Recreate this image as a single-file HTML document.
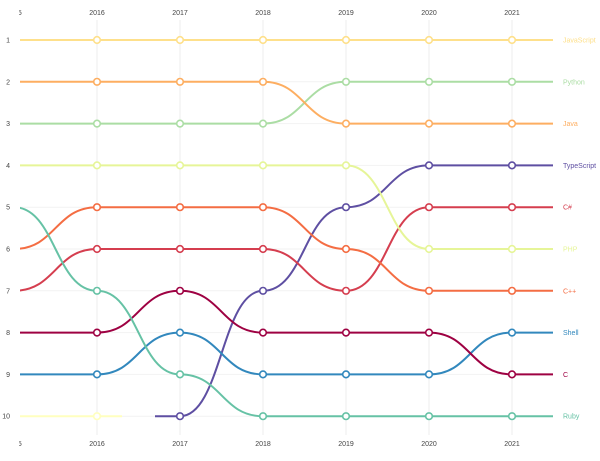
<!DOCTYPE html>
<html><head><meta charset="utf-8"><style>
html,body{margin:0;padding:0;background:#fff;}
svg{display:block;font-family:"Liberation Sans","DejaVu Sans",sans-serif;}
</style></head><body>
<svg id="s" width="600" height="461" viewBox="0 0 600 461" xmlns="http://www.w3.org/2000/svg">
<defs><clipPath id="c"><rect x="20" y="0" width="540" height="461"/></clipPath>
<clipPath id="c2"><rect x="19" y="0" width="560" height="461"/></clipPath></defs>
<g id="grid"></g>
<g id="lines" clip-path="url(#c)"></g>
<g id="cl" font-size="7" fill="#444" clip-path="url(#c2)"></g>
<g id="txt" font-size="7" fill="#444"></g>
</svg>
<script>
var NS="http://www.w3.org/2000/svg";
function X(i){return 14+83*i;}
function Y(r){return 40+(r-1)*41.8;}
function el(t,a,p,txt){var e=document.createElementNS(NS,t);for(var k in a)e.setAttribute(k,a[k]);if(txt)e.textContent=txt;document.getElementById(p).appendChild(e);return e;}
for(var i=1;i<=6;i++){el('line',{x1:X(i),x2:X(i),y1:20,y2:435,stroke:'#ececec','stroke-width':1},'grid');
 el('text',{x:X(i),y:15,'text-anchor':'middle'},'txt',String(2015+i));
 el('text',{x:X(i),y:446,'text-anchor':'middle'},'txt',String(2015+i));}
el('text',{x:14,y:15,'text-anchor':'middle'},'cl','2015');
el('text',{x:14,y:446,'text-anchor':'middle'},'cl','2015');
for(var r=1;r<=10;r++){el('line',{x1:20,x2:553,y1:Y(r),y2:Y(r),stroke:'#f2f2f2','stroke-width':1},'grid');
 el('text',{x:10,y:Y(r)+2.5,'text-anchor':'end'},'txt',String(r));}
var S=[
['JavaScript','#fee08b',[1,1,1,1,1,1,1]],
['Python','#abdda4',[3,3,3,3,2,2,2]],
['Java','#fdae61',[2,2,2,2,3,3,3]],
['TypeScript','#5e4fa2',[null,null,10,7,5,4,4]],
['C#','#d53e4f',[7,6,6,6,7,5,5]],
['PHP','#e6f598',[4,4,4,4,4,6,6]],
['C++','#f46d43',[6,5,5,5,6,7,7]],
['Shell','#3288bd',[9,9,8,9,9,9,8]],
['C','#9e0142',[8,8,7,8,8,8,9]],
['Ruby','#66c2a5',[5,7,9,10,10,10,10]]];
el('line',{x1:20,x2:122,y1:Y(10),y2:Y(10),stroke:'#ffffbf','stroke-width':2},'lines');
el('circle',{cx:X(1),cy:Y(10),r:3.3,fill:'#fff',stroke:'#ffffbf','stroke-width':1.6},'txt');
S.forEach(function(s){
 var v=s[2],d='',start=true;
 for(var i=0;i<v.length;i++){ if(v[i]==null)continue;
  if(start){ if(s[0]=='TypeScript'){d='M155 '+Y(10)+' L'+X(i)+' '+Y(v[i]);} else d='M'+X(i)+' '+Y(v[i]); start=false;}
  else{var x0=X(i-1),x1=X(i),m=(x0+x1)/2;d+=' C'+m+' '+Y(v[i-1])+' '+m+' '+Y(v[i])+' '+x1+' '+Y(v[i]);}
 }
 d+=' L553 '+Y(v[6]);
 el('path',{d:d,fill:'none',stroke:s[1],'stroke-width':2},'lines');
 for(var i=1;i<v.length;i++){ if(v[i]==null)continue;
  el('circle',{cx:X(i),cy:Y(v[i]),r:3.3,fill:'#fff',stroke:s[1],'stroke-width':1.6},'txt');}
 el('text',{x:563,y:Y(v[6])+2.5,fill:s[1]},'txt',s[0]);
});
</script>
</body></html>
